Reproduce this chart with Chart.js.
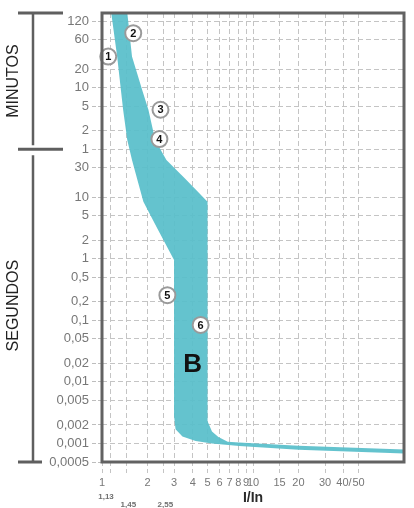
<!DOCTYPE html>
<html lang="es">
<head>
<meta charset="utf-8">
<title>Curva B</title>
<script src="https://cdn.jsdelivr.net/npm/chart.js@4.4.0/dist/chart.umd.min.js"></script>
<style>
    html, body { margin: 0; padding: 0; background: #fff; }
    #chart-curva { display: block; }
</style>
</head>
<body>
<canvas id="chart-curva" width="414" height="508"></canvas>
<script>
// Curva de disparo B: tiempo (s) frente a múltiplo de la corriente nominal I/In
const curvaMinX = [1.15, 1.26, 1.38, 1.47, 1.58, 1.74, 1.88, 2.33, 3, 3, 3.07, 3.41, 4.17, 5.35, 8.1, 20, 100];
const curvaMinT = [10000, 1920, 263, 85, 40, 16.8, 8.4, 3.06, 0.95, 0.0028, 0.0017, 0.0013, 0.0011, 0.001, 0.00091, 0.00079, 0.000685];
const curvaMaxX = [1.47, 1.58, 1.85, 2.03, 2.25, 2.67, 3.57, 5, 5, 5.35, 5.9, 6.8, 8.1, 20, 100];
const curvaMaxT = [10000, 1920, 540, 263, 85, 40, 19.8, 8.4, 0.0023, 0.00157, 0.00127, 0.00107, 0.00104, 0.00092, 0.0008];

// Marcas numeradas
const marcaTexto = ['1', '2', '3', '4', '5', '6'];
const marcaX = [1.10, 1.61, 2.44, 2.40, 2.71, 4.50];
const marcaT = [1920, 4600, 263, 88, 0.256, 0.084];
const letraCurva = 'B';
const letraX = 3.98;
const letraT = 0.02;

// Ejes
const yTicks = [7200, 3600, 1200, 600, 300, 120, 60, 30, 10, 5, 2, 1, 0.5, 0.2, 0.1, 0.05, 0.02, 0.01, 0.005, 0.002, 0.001, 0.0005];
const yTickLabels = ['120', '60', '20', '10', '5', '2', '1', '30', '10', '5', '2', '1', '0,5', '0,2', '0,1', '0,05', '0,02', '0,01', '0,005', '0,002', '0,001', '0,0005'];
const xTicks = [1, 1.13, 1.45, 2, 2.55, 3, 4, 5, 6, 7, 8, 9, 10, 15, 20, 30, 40, 50];
const xTickLabels = ['1', '', '', '2', '', '3', '4', '5', '6', '7', '8', '9', '10', '15', '20', '30', '40/', '50'];
const xSubTicks = [1.13, 1.45, 2.55];
const xSubLabels = ['1,13', '1,45', '2,55'];
const minutosHasta = 60; // por encima de 60 s la escala está en minutos

// Polígono de la banda: curva mínima de ida y la máxima de vuelta
const banda = curvaMinX.map((x, i) => ({ x: x, y: curvaMinT[i] }))
    .concat(curvaMaxX.map((x, i) => ({ x: x, y: curvaMaxT[i] })).reverse());
const marcas = marcaX.map((x, i) => ({ x: x, y: marcaT[i] }));

const extras = {
    id: 'extras',
    afterDatasetsDraw(chart) {
        const { ctx, scales: { x, y } } = chart;
        ctx.save();
        ctx.textAlign = 'center';
        ctx.textBaseline = 'middle';
        ctx.fillStyle = '#111';
        ctx.font = 'bold 11px "Liberation Sans", Arial, sans-serif';
        marcaTexto.forEach((t, i) => {
            ctx.fillText(t, x.getPixelForValue(marcaX[i]), y.getPixelForValue(marcaT[i]) + 0.5);
        });
        ctx.font = 'bold 26px "Liberation Sans", Arial, sans-serif';
        ctx.fillText(letraCurva, x.getPixelForValue(letraX), y.getPixelForValue(letraT) + 1);
        ctx.restore();
    },
    afterDraw(chart) {
        const { ctx, chartArea: a, scales: { x, y } } = chart;
        ctx.save();
        // marco del gráfico
        ctx.strokeStyle = '#626262';
        ctx.lineWidth = 3;
        ctx.strokeRect(a.left, a.top, a.right - a.left, a.bottom - a.top);

        // llaves de MINUTOS / SEGUNDOS
        const yMid = y.getPixelForValue(minutosHasta);
        const linea = (x1, y1, x2, y2) => {
            ctx.beginPath();
            ctx.moveTo(x1, y1);
            ctx.lineTo(x2, y2);
            ctx.stroke();
        };
        ctx.strokeStyle = '#5f5f5f';
        ctx.lineWidth = 3;
        linea(18, a.top, 63, a.top);
        linea(18, yMid, 63, yMid);
        linea(18, a.bottom, 42, a.bottom);
        ctx.lineWidth = 2.5;
        linea(33, a.top, 33, yMid - 4);
        linea(33, yMid + 6, 33, a.bottom);

        ctx.fillStyle = '#222';
        ctx.font = '16px "Liberation Sans", Arial, sans-serif';
        ctx.textAlign = 'center';
        ctx.textBaseline = 'middle';
        [['MINUTOS', (a.top + yMid) / 2], ['SEGUNDOS', (yMid + a.bottom) / 2]].forEach(([t, cy]) => {
            ctx.save();
            ctx.translate(14, cy);
            ctx.rotate(-Math.PI / 2);
            ctx.fillText(t, 0, 0);
            ctx.restore();
        });

        // valores convencionales bajo el eje x
        ctx.fillStyle = '#6f6f6f';
        ctx.font = 'bold 8px "Liberation Sans", Arial, sans-serif';
        xSubTicks.forEach((v, i) => {
            const px = x.getPixelForValue(v) - (i === 0 ? 4 : -2);
            ctx.fillText(xSubLabels[i], px, i === 0 ? 497 : 505);
        });
        ctx.restore();
    }
};

new Chart(document.getElementById('chart-curva'), {
    type: 'line',
    data: {
        datasets: [{
            data: marcas,
            showLine: false,
            pointRadius: 8,
            pointBorderWidth: 2,
            pointBackgroundColor: '#ffffff',
            pointBorderColor: '#9a9a9a',
            clip: false,
        }, {
            data: banda,
            fill: 'shape',
            backgroundColor: 'rgba(88, 190, 202, 0.93)',
            borderWidth: 0,
            pointRadius: 0,
            tension: 0,
        }],
    },
    options: {
        responsive: false,
        animation: false,
        layout: { padding: { top: 13, right: 1, left: 0, bottom: 0 } },
        plugins: {
            legend: { display: false },
            tooltip: { enabled: false },
        },
        scales: {
            x: {
                type: 'logarithmic',
                min: 1,
                max: 100,
                afterBuildTicks: scale => { scale.ticks = xTicks.map(v => ({ value: v })); },
                afterFit: scale => { scale.height = 46; },
                ticks: {
                    autoSkip: false,
                    maxRotation: 0,
                    minRotation: 0,
                    padding: 2,
                    color: '#777',
                    font: { family: '"Liberation Sans", Arial, sans-serif', size: 11 },
                    callback: (value, index) => xTickLabels[index],
                },
                grid: {
                    color: '#c4c4c4',
                    lineWidth: 1,
                    tickLength: 12,
                    tickColor: '#c4c4c4',
                    tickBorderDash: [4, 3],
                },
                border: { display: false, dash: [5, 3] },
                title: {
                    display: true,
                    text: 'I/In',
                    color: '#2a2a2a',
                    padding: { top: 0, bottom: 1 },
                    font: { family: '"Liberation Sans", Arial, sans-serif', size: 14, weight: 'bold' },
                },
            },
            y: {
                type: 'logarithmic',
                min: 0.0005,
                max: 9800,
                afterBuildTicks: scale => { scale.ticks = yTicks.map(v => ({ value: v })); },
                afterFit: scale => { scale.width = 102; },
                ticks: {
                    autoSkip: false,
                    padding: 3,
                    color: '#777',
                    font: { family: '"Liberation Sans", Arial, sans-serif', size: 13 },
                    callback: (value, index) => yTickLabels[index],
                },
                grid: {
                    color: '#c4c4c4',
                    lineWidth: 1,
                    tickLength: 10,
                    tickColor: '#bdbdbd',
                    tickBorderDash: [4, 2],
                },
                border: { display: false, dash: [5, 3] },
            },
        },
    },
    plugins: [extras],
});
</script>
</body>
</html>
